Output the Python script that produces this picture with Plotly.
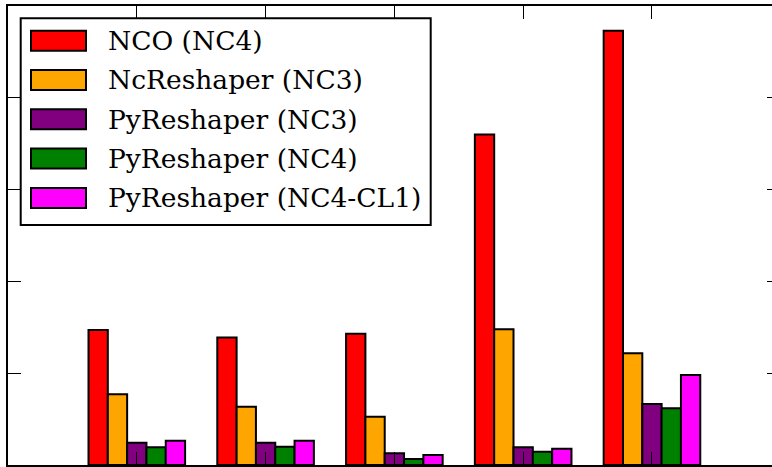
import plotly.graph_objects as go

# ---- data ----
groups = [1, 2, 3, 4, 5]
series_names = ["NCO (NC4)", "NcReshaper (NC3)", "PyReshaper (NC3)",
                "PyReshaper (NC4)", "PyReshaper (NC4-CL1)"]
nco_nc4 = [1.47, 1.39, 1.43, 3.60, 4.73]
ncreshaper_nc3 = [0.77, 0.635, 0.526, 1.478, 1.217]
pyreshaper_nc3 = [0.243, 0.243, 0.127, 0.193, 0.664]
pyreshaper_nc4 = [0.193, 0.20, 0.065, 0.145, 0.617]
pyreshaper_nc4_cl1 = [0.265, 0.265, 0.109, 0.178, 0.98]
series_values = [nco_nc4, ncreshaper_nc3, pyreshaper_nc3, pyreshaper_nc4, pyreshaper_nc4_cl1]
colors = ["#FF0000", "#FFA500", "#800080", "#008000", "#FF00FF"]
y_ticks = [0, 1, 2, 3, 4, 5]

W, H = 772, 467
ML, MR, MT, MB = 8, 0, 6, 2

fig = go.Figure()
for name, vals, col in zip(series_names, series_values, colors):
    fig.add_trace(go.Bar(x=groups, y=vals, name=name,
                         marker=dict(color=col, line=dict(color="black", width=2)),
                         showlegend=False))

# empty helper trace so the right-side tick axis is drawn
fig.add_trace(go.Scatter(x=[None], y=[None], yaxis="y2", showlegend=False,
                         hoverinfo="skip"))

fig.update_layout(
    width=W, height=H,
    margin=dict(l=ML, r=MR, t=MT, b=MB, pad=0),
    paper_bgcolor="white", plot_bgcolor="white",
    barmode="group", bargap=0.25, bargroupgap=0,
    xaxis=dict(range=[0, 5.932], tickvals=groups, showticklabels=False,
               ticks="inside", ticklen=13, tickwidth=1, tickcolor="black",
               showline=True, linecolor="black", linewidth=2, mirror="ticks",
               showgrid=False, zeroline=False),
    yaxis=dict(range=[0, 5], tickvals=y_ticks, showticklabels=False,
               ticks="inside", ticklen=13, tickwidth=1, tickcolor="black",
               showline=True, linecolor="black", linewidth=2, mirror=False,
               showgrid=False, zeroline=False),
    yaxis2=dict(range=[0, 5], tickvals=y_ticks, showticklabels=False,
                overlaying="y", side="right", anchor="x",
                ticks="inside", ticklen=5, tickwidth=1, tickcolor="black",
                showline=False, showgrid=False, zeroline=False),
)

# ---- manual legend (pixel layout converted to paper coords) ----
pw, ph = W - ML - MR, H - MT - MB
def px(x):
    return (x - ML) / pw
def py(y):
    return (H - MB - y) / ph

fig.add_shape(type="rect", xref="paper", yref="paper",
              x0=px(20.7), x1=px(430.7), y0=py(18.3), y1=py(225),
              line=dict(color="black", width=2), fillcolor="white", layer="above")
row0, row_step = 40.7, 39.3
for i, (name, col) in enumerate(zip(series_names, colors)):
    cy = row0 + i * row_step
    fig.add_shape(type="rect", xref="paper", yref="paper",
                  x0=px(31), x1=px(86), y0=py(cy - 10), y1=py(cy + 10),
                  line=dict(color="black", width=2), fillcolor=col, layer="above")
    fig.add_annotation(xref="paper", yref="paper", x=px(105.5), y=py(cy),
                       text=name, showarrow=False, xanchor="left", yanchor="middle",
                       font=dict(family="DejaVu Serif, serif", size=26.5, color="black"))

fig.write_html("out.html")
